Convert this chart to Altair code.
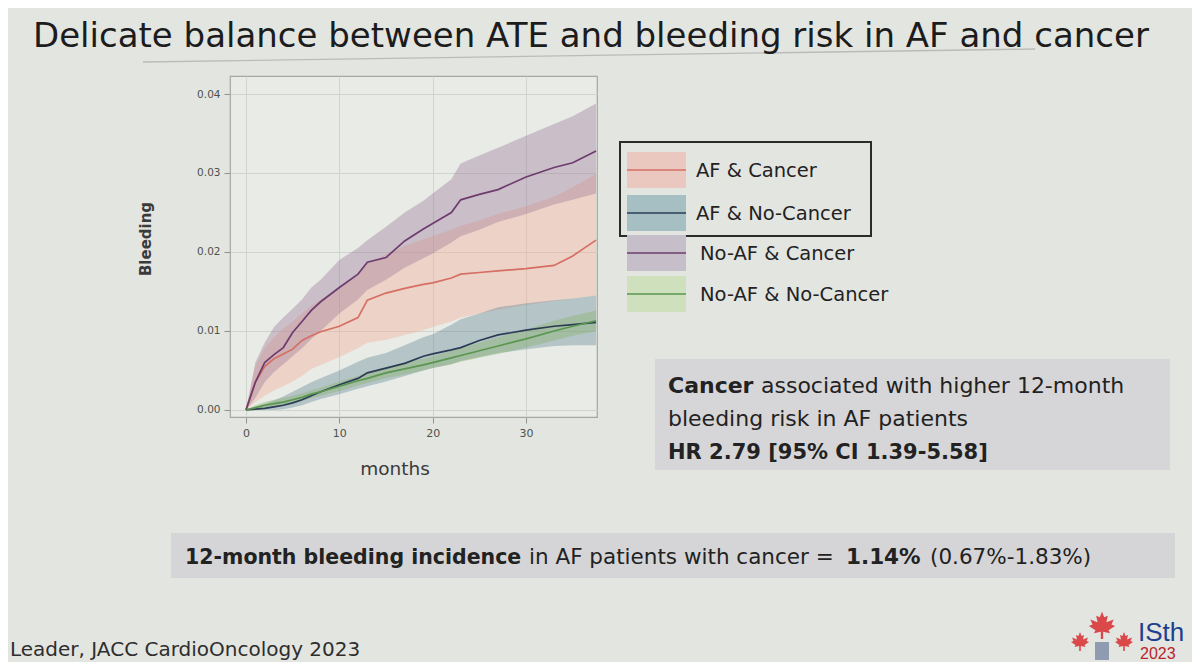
import altair as alt
import pandas as pd

# ---------------- data ----------------
months = [0, 1, 2, 3, 4, 5, 6, 7, 8, 10, 12, 13, 15, 17, 19, 20, 22, 23, 25, 27, 30, 33, 35, 37.5]
series_names = ["AF & Cancer", "AF & No-Cancer", "No-AF & Cancer", "No-AF & No-Cancer"]

af_cancer_mean = [0, 0.0035, 0.0055, 0.0065, 0.0071, 0.0077, 0.0088, 0.0094, 0.0099, 0.0106, 0.0117, 0.0139,
                  0.0148, 0.0154, 0.0159, 0.0161, 0.0167, 0.0172, 0.0174, 0.0176, 0.0179, 0.0183, 0.0195, 0.0215]
af_cancer_hi = [0, 0.0055, 0.0078, 0.0092, 0.0103, 0.0112, 0.0122, 0.0132, 0.0140, 0.0155, 0.0170, 0.0185,
                0.0197, 0.0208, 0.0216, 0.0220, 0.0228, 0.0233, 0.0240, 0.0248, 0.0258, 0.0270, 0.0282, 0.0299]
af_cancer_lo = [0, 0.0010, 0.0018, 0.0025, 0.0030, 0.0036, 0.0043, 0.0052, 0.0057, 0.0067, 0.0078, 0.0085,
                0.0089, 0.0095, 0.0101, 0.0105, 0.0112, 0.0117, 0.0122, 0.0127, 0.0133, 0.0138, 0.0141, 0.0145]

af_nocancer_mean = [0, 0.0001, 0.0002, 0.0004, 0.0006, 0.0009, 0.0013, 0.0018, 0.0023, 0.0032, 0.0040, 0.0047,
                    0.0053, 0.0059, 0.0068, 0.0071, 0.0076, 0.0079, 0.0088, 0.0095, 0.0101, 0.0106, 0.0108, 0.0111]
af_nocancer_hi = [0, 0.0004, 0.0008, 0.0012, 0.0017, 0.0023, 0.0029, 0.0035, 0.0040, 0.0050, 0.0061, 0.0066,
                  0.0072, 0.0082, 0.0092, 0.0096, 0.0108, 0.0115, 0.0122, 0.0130, 0.0135, 0.0139, 0.0141, 0.0145]
af_nocancer_lo = [0, 0, 0, 0, 0.0001, 0.0003, 0.0006, 0.0010, 0.0014, 0.0020, 0.0027, 0.0030,
                  0.0036, 0.0043, 0.0050, 0.0053, 0.0058, 0.0062, 0.0067, 0.0072, 0.0077, 0.0081, 0.0082, 0.0082]

noaf_cancer_mean = [0, 0.0035, 0.0060, 0.0070, 0.0079, 0.0098, 0.0112, 0.0126, 0.0137, 0.0155, 0.0172, 0.0187,
                    0.0193, 0.0214, 0.0229, 0.0236, 0.0250, 0.0266, 0.0273, 0.0279, 0.0295, 0.0307, 0.0313, 0.0328]
noaf_cancer_hi = [0, 0.0060, 0.0085, 0.0105, 0.0117, 0.0128, 0.0140, 0.0155, 0.0165, 0.0190, 0.0205, 0.0215,
                  0.0232, 0.0250, 0.0265, 0.0274, 0.0292, 0.0312, 0.0322, 0.0332, 0.0347, 0.0362, 0.0372, 0.0388]
noaf_cancer_lo = [0, 0.0015, 0.0035, 0.0048, 0.0058, 0.0068, 0.0078, 0.0090, 0.0100, 0.0122, 0.0140, 0.0152,
                  0.0165, 0.0180, 0.0192, 0.0198, 0.0212, 0.0220, 0.0228, 0.0238, 0.0248, 0.0260, 0.0266, 0.0274]

noaf_nocancer_mean = [0, 0.0003, 0.0006, 0.0008, 0.0010, 0.0013, 0.0016, 0.0020, 0.0023, 0.0030, 0.0037, 0.0040,
                      0.0047, 0.0052, 0.0057, 0.0060, 0.0066, 0.0069, 0.0075, 0.0081, 0.0090, 0.0100, 0.0106, 0.0113]
noaf_nocancer_hi = [0, 0.0006, 0.0010, 0.0013, 0.0015, 0.0018, 0.0021, 0.0025, 0.0028, 0.0036, 0.0043, 0.0047,
                    0.0054, 0.0060, 0.0065, 0.0068, 0.0075, 0.0078, 0.0085, 0.0092, 0.0102, 0.0113, 0.0119, 0.0126]
noaf_nocancer_lo = [0, 0.0001, 0.0003, 0.0004, 0.0006, 0.0008, 0.0011, 0.0015, 0.0018, 0.0024, 0.0031, 0.0034,
                    0.0040, 0.0045, 0.0050, 0.0053, 0.0058, 0.0061, 0.0066, 0.0071, 0.0079, 0.0088, 0.0094, 0.0100]

x_ticks = [0, 10, 20, 30]
y_ticks = [0.00, 0.01, 0.02, 0.03, 0.04]

title_text = "Delicate balance between ATE and bleeding risk in AF and cancer"

# ---------------- styles ----------------
band_colors = ["#f5a68b", "#527c8b", "#916d93", "#80b25d"]
line_colors = ["#d66e64", "#2d3c55", "#6e3c6e", "#5a9650"]
swatch_colors = ["#ebc8bf", "#a6bfc3", "#c6bec9", "#cfe1bc"]

means = [af_cancer_mean, af_nocancer_mean, noaf_cancer_mean, noaf_nocancer_mean]
his = [af_cancer_hi, af_nocancer_hi, noaf_cancer_hi, noaf_nocancer_hi]
los = [af_cancer_lo, af_nocancer_lo, noaf_cancer_lo, noaf_nocancer_lo]

rows = []
for name, m_, lo_, hi_ in zip(series_names, means, los, his):
    for x, a, b, c in zip(months, m_, lo_, hi_):
        rows.append({"series": name, "month": x, "mean": a, "lo": b, "hi": c})
df = pd.DataFrame(rows)

# plot area in page coordinates
X0, Y0 = 230, 76
W, H = 367, 341
FONT = "DejaVu Sans"
TXT = "#222222"

one = pd.DataFrame({"k": [0]})


def px(x):
    return x - X0


def py(y):
    return y - Y0


def text(s, x, y, size, weight="normal", color=TXT, align="left", baseline="alphabetic", angle=0, font=FONT):
    kw = dict(text=s, align=align, baseline=baseline, fontSize=size, fontWeight=weight, color=color, font=font)
    if angle:
        kw["angle"] = angle
    return alt.Chart(one).mark_text(**kw).encode(x=alt.value(px(x)), y=alt.value(py(y)))


def rect(x1, y1, x2, y2, fill, stroke=None, sw=0, fill_opacity=1):
    kw = dict(fill=fill, fillOpacity=fill_opacity)
    if stroke:
        kw.update(stroke=stroke, strokeWidth=sw)
    return alt.Chart(one).mark_rect(**kw).encode(
        x=alt.value(px(x1)), x2=alt.value(px(x2)), y=alt.value(py(y1)), y2=alt.value(py(y2)))


def rule(x1, y1, x2, y2, color, sw):
    return alt.Chart(one).mark_rule(color=color, strokeWidth=sw).encode(
        x=alt.value(px(x1)), x2=alt.value(px(x2)), y=alt.value(py(y1)), y2=alt.value(py(y2)))


xs = alt.Scale(domain=[-1.71, 37.6], nice=False, zero=False)
ys = alt.Scale(domain=[-0.00089, 0.04228], nice=False, zero=False)

bands = alt.Chart(df).mark_area(opacity=0.35).encode(
    x=alt.X("month:Q", scale=xs, axis=alt.Axis(values=x_ticks, title=None, format="d", labelFontSize=11)),
    y=alt.Y("lo:Q", scale=ys, axis=alt.Axis(values=y_ticks, title=None, format=".2f", labelFontSize=10.5)),
    y2="hi:Q",
    fill=alt.Fill("series:N", scale=alt.Scale(domain=series_names, range=band_colors), legend=None),
)
lines = alt.Chart(df).mark_line(strokeWidth=1.7).encode(
    x="month:Q",
    y="mean:Q",
    stroke=alt.Stroke("series:N", scale=alt.Scale(domain=series_names, range=line_colors), legend=None),
)

layers = []
# slide boxes
layers.append(rect(655, 359, 1170, 470, "#d6d6d8"))
layers.append(rect(171, 533, 1175, 578, "#d5d5d7"))
layers.append(rule(143, 62, 1035, 49, "#b9bcb8", 1.3))

layers += [bands, lines]

# axis titles
layers.append(text("Bleeding", 146, 239, 15, weight="bold", color="#3a3a3a", align="center",
                   baseline="middle", angle=270))
layers.append(text("months", 395, 475, 18.5, color="#3a3a3a", align="center"))

# legend
layers.append(rect(620, 142, 871, 236, "#ffffff", stroke="#2b2b2b", sw=2, fill_opacity=0))
leg_y = [170, 213, 253, 294]
leg_x = [696, 696, 700, 700]
for i, name in enumerate(series_names):
    cy = leg_y[i]
    layers.append(rect(627, cy - 18, 686, cy + 18, swatch_colors[i]))
    layers.append(rule(627, cy, 686, cy, line_colors[i], 1.5))
    layers.append(text(name, leg_x[i], cy + 7, 19.5))

# gray box text
layers.append(text("Cancer", 668, 393, 22, weight="bold"))
layers.append(text("associated with higher 12-month", 761, 393, 22))
layers.append(text("bleeding risk in AF patients", 668, 426, 22))
layers.append(text("HR 2.79 [95% CI 1.39-5.58]", 668, 459, 21, weight="bold"))

# bottom line
layers.append(text("12-month bleeding incidence", 185, 564, 20.5, weight="bold"))
layers.append(text("in AF patients with cancer =", 529, 564, 21.5))
layers.append(text("1.14%", 846, 564, 21.5, weight="bold"))
layers.append(text("(0.67%-1.83%)", 930, 564, 21.5))

# title
layers.append(text(title_text, 33, 47, 34, color="#1c1c1c"))

# footer
layers.append(text("Leader, JACC CardioOncology 2023", 10, 656, 20, color="#2e2e2e"))

# logo
leaf = ("M0,-1 L0.15,-0.6 L0.4,-0.7 L0.3,-0.25 L0.8,-0.45 L0.65,-0.1 L0.9,0 L0.45,0.3 L0.55,0.5 "
        "L0.08,0.4 L0.08,0.9 L-0.08,0.9 L-0.08,0.4 L-0.55,0.5 L-0.45,0.3 L-0.9,0 L-0.65,-0.1 "
        "L-0.8,-0.45 L-0.3,-0.25 L-0.4,-0.7 L-0.15,-0.6 Z")
for lx, ly, sz in [(1080, 642, 400), (1124, 642, 400), (1102, 626, 850)]:
    layers.append(alt.Chart(one).mark_point(shape=leaf, filled=True, color="#d8363a", size=sz, opacity=0.9)
                  .encode(x=alt.value(px(lx)), y=alt.value(py(ly))))
layers.append(rect(1095, 642, 1109, 660, "#8f9bb0"))
layers.append(text("ISth", 1138, 641, 26, color="#1f3f8f", font="Liberation Sans"))
layers.append(text("2023", 1140, 659, 16, color="#b8242a", font="Liberation Sans"))

chart = alt.layer(*layers).properties(
    width=W,
    height=H,
    padding={"left": X0 - 8, "top": Y0 - 8, "right": 1184 - (X0 - 8) - W, "bottom": 654 - (Y0 - 8) - H},
    autosize=alt.AutoSizeParams(type="none"),
    background="#e3e5e1",
).configure_view(
    fill="#e8ebe6", stroke="#a3a8a2", strokeWidth=1.2
).configure_axis(
    gridColor="#d0d4ce", gridWidth=1, domain=False, tickColor="#8f948e", tickSize=6,
    labelColor="#4d524d", labelFont="DejaVu Sans", labelPadding=4,
)

chart.save("out.html", embed_options={"renderer": "svg", "actions": False})
